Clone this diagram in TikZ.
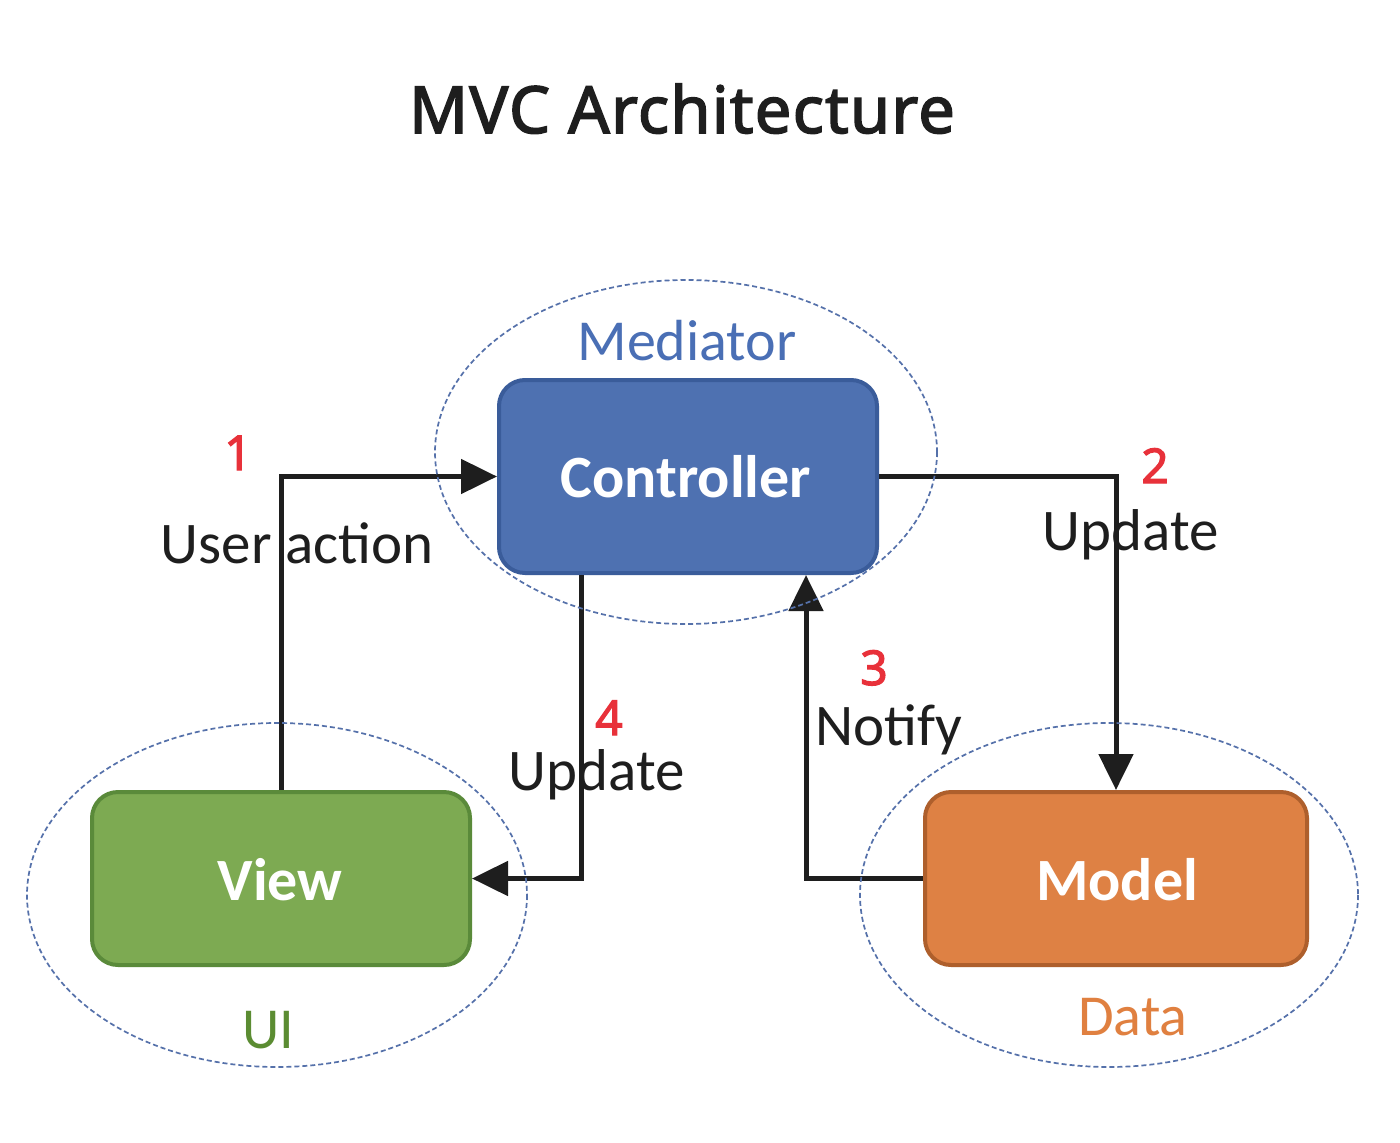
\documentclass[tikz,border=0pt]{standalone}
\usepackage{fontspec}
\setmainfont{Carlito}
\newfontfamily\titlefont{Noto Sans}[FakeBold=2.4]
\newfontfamily\headfont{Noto Sans}[FakeBold=2.4, LetterSpace=2]
\usetikzlibrary{arrows.meta}
\definecolor{ctrlfill}{HTML}{4E71B1}
\definecolor{ctrldraw}{HTML}{3A5C9A}
\definecolor{viewfill}{HTML}{7DAA52}
\definecolor{viewdraw}{HTML}{5A8A3A}
\definecolor{modelfill}{HTML}{DE8144}
\definecolor{modeldraw}{HTML}{AE5F2C}
\definecolor{medtext}{HTML}{4A6FB5}
\definecolor{uitext}{HTML}{5B8C32}
\definecolor{datatext}{HTML}{E08040}
\definecolor{numred}{HTML}{E8313A}
\definecolor{linecol}{HTML}{1E1E1E}
\definecolor{ellcol}{HTML}{5571AA}
\tikzset{
  box/.style={rectangle, rounded corners=26pt, line width=4pt, minimum height=173pt, inner sep=0pt},
  boxtxt/.style={anchor=base, inner sep=0pt, text=white, font=\fontsize{60}{64}\selectfont\bfseries},
  lbl/.style={anchor=base, inner sep=0pt, text=linecol, font=\fontsize{59}{62}\selectfont},
  grp/.style={anchor=base, inner sep=0pt, font=\fontsize{58}{62}\selectfont},
  num/.style={anchor=base, inner sep=0pt, text=numred, font=\fontsize{48}{52}\selectfont\titlefont},
  arr/.style={draw=linecol, line width=5pt, -{Triangle[length=36pt,width=34pt]}},
  grpell/.style={draw=ellcol, line width=1.7pt, dash pattern=on 5pt off 3pt}
}
\begin{document}
\begin{tikzpicture}[x=1pt,y=-1pt]
\useasboundingbox[fill=white] (0,0) rectangle (1400,1143);
% title
\node[anchor=base, inner sep=0pt, text=linecol, font=\fontsize{65}{70}\selectfont\headfont] (title) at (682,133) {MVC Architecture};
% boxes
\node[box, fill=ctrlfill, draw=ctrldraw, minimum width=378pt, minimum height=193pt] (ctrl) at (688,476.5) {};
\node[box, fill=viewfill, draw=viewdraw, minimum width=378pt] (view) at (281,878.5) {};
\node[box, fill=modelfill, draw=modeldraw, minimum width=382pt] (model) at (1116,878.5) {};
\node[boxtxt] (ctrltxt) at (686,497) {Controller};
\node[boxtxt] (viewtxt) at (280,900) {View};
\node[boxtxt] (modeltxt) at (1117,900) {Model};
% connectors
\draw[arr] (view.north) |- (ctrl.west);
\draw[arr] (ctrl.east) -| (model.north);
\draw[arr] (model.west) -| ([xshift=118pt]ctrl.south);
\draw[arr] ([xshift=-107pt]ctrl.south) |- (view.east);
% labels
\node[lbl] (l1) at (297,563) {User action};
\node[lbl] (l2) at (1131,550) {Update};
\node[lbl] (l3) at (889,745) {Notify};
\node[lbl] (l4) at (597,790) {Update};
\node[num] (n1) at (238,470) {1};
\node[num] (n2) at (1155,483) {2};
\node[num] (n3) at (874,685) {3};
\node[num] (n4) at (609,735) {4};
% group ellipses
\draw[grpell] (686,452) ellipse [x radius=251, y radius=172];
\draw[grpell] (277,895) ellipse [x radius=250, y radius=172];
\draw[grpell] (1109,895) ellipse [x radius=249, y radius=172];
\node[grp, text=medtext] (med) at (687,360) {Mediator};
\node[grp, text=uitext] (ui) at (268,1048) {UI};
\node[grp, text=datatext] (data) at (1133,1035) {Data};
\end{tikzpicture}
\end{document}
